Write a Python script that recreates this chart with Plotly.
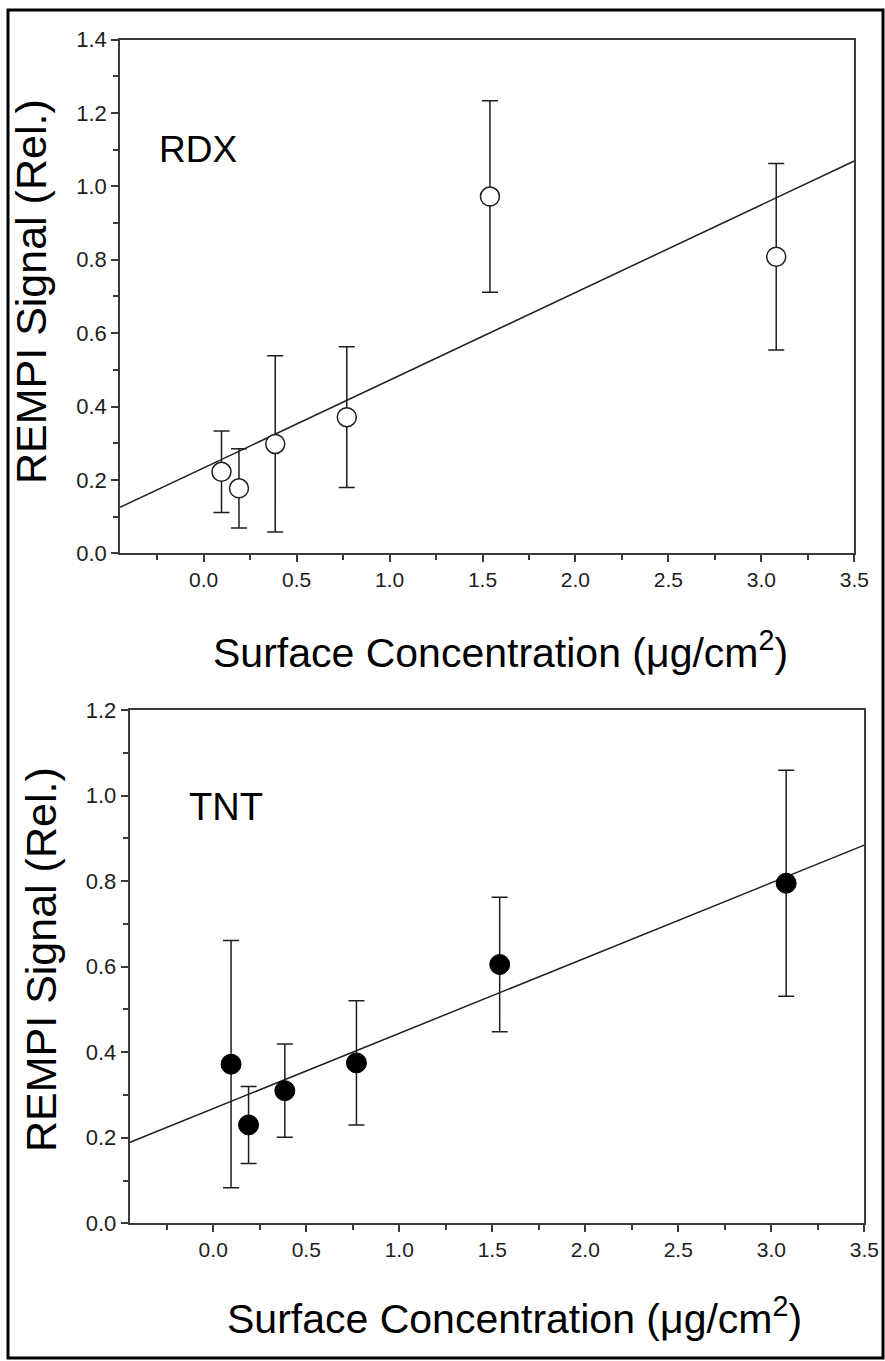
import plotly.graph_objects as go

# ---------------- data ----------------
conc = [0.096, 0.19, 0.385, 0.77, 1.54, 3.08]

rdx_signal = [0.222, 0.177, 0.298, 0.371, 0.972, 0.808]
rdx_err = [0.111, 0.108, 0.240, 0.192, 0.261, 0.254]
rdx_fit_x = [-0.45, 3.5]
rdx_fit_y = [0.125, 1.069]

tnt_signal = [0.372, 0.230, 0.310, 0.375, 0.605, 0.795]
tnt_err = [0.289, 0.090, 0.109, 0.145, 0.157, 0.264]
tnt_fit_x = [-0.45, 3.5]
tnt_fit_y = [0.189, 0.884]

x_ticks = [0.0, 0.5, 1.0, 1.5, 2.0, 2.5, 3.0, 3.5]
x_tick_labels = ["0.0", "0.5", "1.0", "1.5", "2.0", "2.5", "3.0", "3.5"]
rdx_y_ticks = [0.0, 0.2, 0.4, 0.6, 0.8, 1.0, 1.2, 1.4]
tnt_y_ticks = [0.0, 0.2, 0.4, 0.6, 0.8, 1.0, 1.2]

y_title = "REMPI Signal (Rel.)"
x_title = "Surface Concentration (\u03bcg/cm<sup>2</sup>)"

# ---------------- layout helpers ----------------
W, H = 885, 1361
def px(x):
    return x / W
def py(y):
    return 1 - y / H

FONT = "Liberation Sans"
AX = "#3a3a3a"
INK = "#1e1e1e"

fig = go.Figure()

fig.add_trace(go.Scatter(
    x=rdx_fit_x, y=rdx_fit_y, mode="lines",
    line=dict(color=INK, width=1.5), xaxis="x", yaxis="y", showlegend=False))
fig.add_trace(go.Scatter(
    x=conc, y=rdx_signal, mode="markers",
    error_y=dict(type="data", array=rdx_err, color=INK, thickness=1.5, width=8),
    marker=dict(symbol="circle", size=19, color="white",
                line=dict(color=INK, width=1.5)),
    xaxis="x", yaxis="y", showlegend=False))

fig.add_trace(go.Scatter(
    x=tnt_fit_x, y=tnt_fit_y, mode="lines",
    line=dict(color=INK, width=1.5), xaxis="x2", yaxis="y2", showlegend=False))
fig.add_trace(go.Scatter(
    x=conc, y=tnt_signal, mode="markers",
    error_y=dict(type="data", array=tnt_err, color=INK, thickness=1.5, width=8),
    marker=dict(symbol="circle", size=20, color="black",
                line=dict(color="black", width=1)),
    xaxis="x2", yaxis="y2", showlegend=False))

def xaxis(domain, anchor):
    return dict(domain=domain, anchor=anchor, range=[-0.45, 3.5],
                tickmode="array", tickvals=x_ticks, ticktext=x_tick_labels,
                ticks="outside", ticklen=7, tickwidth=1.5, tickcolor=AX,
                minor=dict(dtick=0.25, tick0=0, ticks="outside", ticklen=5,
                           tickwidth=1.5, tickcolor=AX),
                showline=True, linecolor=AX, linewidth=1.5, mirror=True,
                showgrid=False, zeroline=False, automargin=False,
                tickfont=dict(family=FONT, size=21, color=INK))

def yaxis(domain, anchor, rng, ticks):
    return dict(domain=domain, anchor=anchor, range=rng,
                tickmode="array", tickvals=ticks,
                ticktext=["%.1f" % t for t in ticks],
                ticks="outside", ticklen=7, tickwidth=1.5, tickcolor=AX,
                minor=dict(dtick=0.1, tick0=0, ticks="outside", ticklen=5,
                           tickwidth=1.5, tickcolor=AX),
                showline=True, linecolor=AX, linewidth=1.5, mirror=True,
                showgrid=False, zeroline=False, automargin=False,
                tickfont=dict(family=FONT, size=22, color=INK))

fig.update_layout(
    width=W, height=H,
    margin=dict(l=0, r=0, t=0, b=0),
    paper_bgcolor="white", plot_bgcolor="white",
    font=dict(family=FONT, size=21, color=INK),
    xaxis=xaxis([px(120), px(854.3)], "y"),
    yaxis=yaxis([py(553.3), py(39.5)], "x", [0, 1.4], rdx_y_ticks),
    xaxis2=xaxis([px(129.5), px(864.3)], "y2"),
    yaxis2=yaxis([py(1223.3), py(710)], "x2", [0, 1.2], tnt_y_ticks),
    showlegend=False,
)

annotations = [
    dict(text="RDX", x=-0.25, y=1.10, xref="x", yref="y", xanchor="left",
         yanchor="middle", showarrow=False,
         font=dict(family=FONT, size=37, color="black")),
    dict(text="TNT", x=-0.14, y=0.973, xref="x2", yref="y2", xanchor="left",
         yanchor="middle", showarrow=False,
         font=dict(family=FONT, size=38, color="black")),
    dict(text=y_title, x=px(31), y=py(292), xref="paper", yref="paper",
         textangle=-90, xanchor="center", yanchor="middle", showarrow=False,
         font=dict(family=FONT, size=43, color="black")),
    dict(text=y_title, x=px(41), y=py(960), xref="paper", yref="paper",
         textangle=-90, xanchor="center", yanchor="middle", showarrow=False,
         font=dict(family=FONT, size=43, color="black")),
    dict(text=x_title, x=px(501), y=py(650), xref="paper", yref="paper",
         xanchor="center", yanchor="middle", showarrow=False,
         font=dict(family=FONT, size=41, color="black")),
    dict(text=x_title, x=px(514), y=py(1316), xref="paper", yref="paper",
         xanchor="center", yanchor="middle", showarrow=False,
         font=dict(family=FONT, size=41, color="black")),
]
fig.update_layout(annotations=annotations)

fig.add_shape(type="rect", xref="paper", yref="paper",
              x0=px(8), x1=px(883), y0=py(1358), y1=py(10),
              line=dict(color="black", width=3), fillcolor="rgba(0,0,0,0)")

fig.write_html("out.html", config={"displayModeBar": False},
               post_script="document.body.style.margin='0';")
